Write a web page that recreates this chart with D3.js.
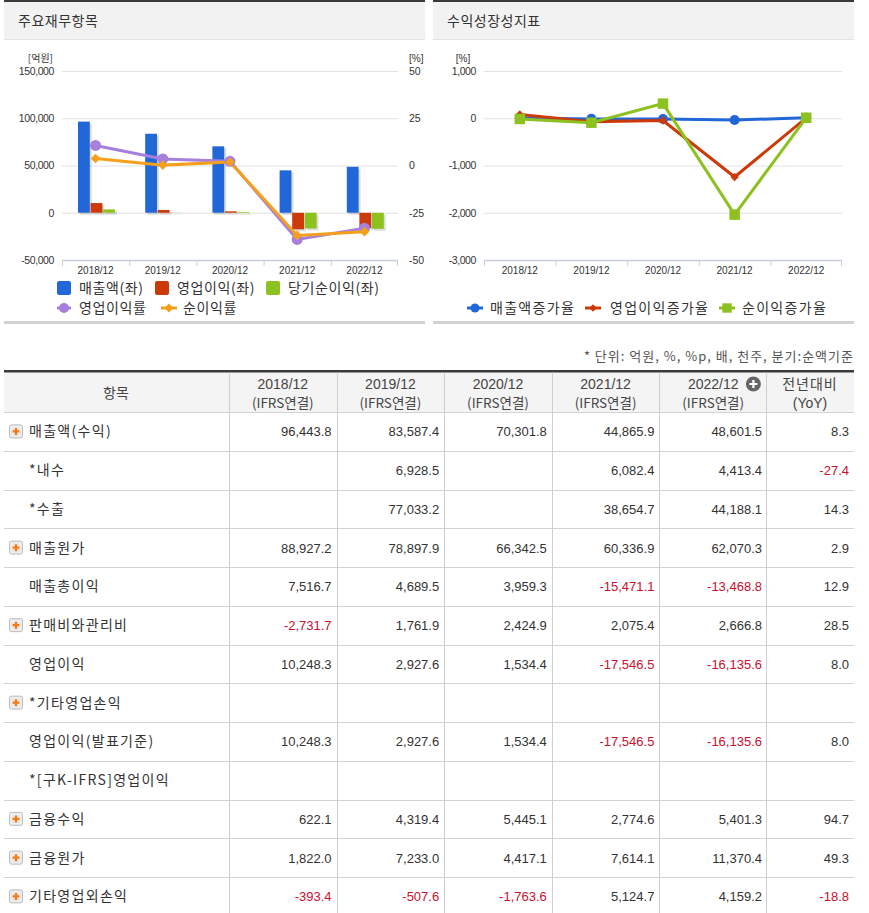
<!DOCTYPE html>
<html>
<head>
<meta charset="utf-8">
<script src="https://cdnjs.cloudflare.com/ajax/libs/d3/7.8.5/d3.min.js"></script>
<style>
  body { margin: 0; background: #fff; }
  svg { display: block; }
  .kr { font-family: "Noto Sans CJK KR", "Noto Sans", sans-serif; }
  .num { font-family: "Liberation Sans", Arial, sans-serif; }
</style>
</head>
<body>
<div id="page"></div>
<script>
// ---- data ----
const periods = ["2018/12", "2019/12", "2020/12", "2021/12", "2022/12"];

// left chart (억원 / %)
const sales = [96443.8, 83587.4, 70301.8, 44865.9, 48601.5];
const opIncome = [10248.3, 2927.6, 1534.4, -17546.5, -16135.6];
const netIncome = [3570, 210, 850, -16600, -17000];
const opMargin = [10.6, 3.5, 2.2, -39.1, -33.2];
const netMargin = [3.7, 0.2, 1.8, -37.0, -35.0];
const leftTicks = [-50000, 0, 50000, 100000, 150000];
const rightTicks = [-50, -25, 0, 25, 50];

// right chart (%)
const salesGrowth = [5, -13.3, -15.9, -36.2, 8.3];
const opGrowth = [80, -71.4, -47.6, -1243.5, 8.0];
const netGrowth = [-15, -94, 310, -2040, 10];
const growthTicks = [-3000, -2000, -1000, 0, 1000];

// table
const rowLabels = ["매출액(수익)", "*내수", "*수출", "매출원가", "매출총이익", "판매비와관리비", "영업이익",
  "*기타영업손익", "영업이익(발표기준)", "*[구K-IFRS]영업이익", "금융수익", "금융원가", "기타영업외손익"];
const rowExpand = [1, 0, 0, 1, 0, 1, 0, 1, 0, 0, 1, 1, 1];
const v2018 = [96443.8, null, null, 88927.2, 7516.7, -2731.7, 10248.3, null, 10248.3, null, 622.1, 1822.0, -393.4];
const v2019 = [83587.4, 6928.5, 77033.2, 78897.9, 4689.5, 1761.9, 2927.6, null, 2927.6, null, 4319.4, 7233.0, -507.6];
const v2020 = [70301.8, null, null, 66342.5, 3959.3, 2424.9, 1534.4, null, 1534.4, null, 5445.1, 4417.1, -1763.6];
const v2021 = [44865.9, 6082.4, 38654.7, 60336.9, -15471.1, 2075.4, -17546.5, null, -17546.5, null, 2774.6, 7614.1, 5124.7];
const v2022 = [48601.5, 4413.4, 44188.1, 62070.3, -13468.8, 2666.8, -16135.6, null, -16135.6, null, 5401.3, 11370.4, 4159.2];
const yoy = [8.3, -27.4, 14.3, 2.9, 12.9, 28.5, 8.0, null, 8.0, null, 94.7, 49.3, -18.8];

// hyphen minus instead of unicode minus
const loc = d3.formatLocale({decimal: ".", thousands: ",", grouping: [3], currency: ["", ""], minus: "-"});
const fmtInt = loc.format(",");
const fmt1 = loc.format(",.1f");

const W = 869, H = 913;
const svg = d3.select("#page").append("svg").attr("width", W).attr("height", H);

// ---- panels ----
function panel(x0, x1, title) {
  const g = svg.append("g");
  g.append("rect").attr("x", x0).attr("y", 0).attr("width", x1 - x0).attr("height", 2).attr("fill", "#3a3a3a");
  g.append("rect").attr("x", x0).attr("y", 2).attr("width", x1 - x0).attr("height", 37).attr("fill", "#f2f2f2");
  g.append("rect").attr("x", x0).attr("y", 39).attr("width", x1 - x0).attr("height", 1).attr("fill", "#e3e3e3");
  g.append("rect").attr("x", x0).attr("y", 321).attr("width", x1 - x0).attr("height", 3).attr("fill", "#d2d2d2");
  g.append("text").attr("class", "kr").attr("x", x0 + 14).attr("y", 26)
    .attr("font-size", 14).attr("letter-spacing", 0.5).attr("fill", "#333").text(title);
  return g;
}
panel(4, 425, "주요재무항목");
panel(433, 854, "수익성장성지표");

// ---- left chart ----
const xL = d3.scaleBand().domain(periods).range([62, 398]);
const yL = d3.scaleLinear().domain([-50000, 150000]).range([260, 71]);
const yR = d3.scaleLinear().domain([-50, 50]).range([260, 71]);
const barSeries = [
  {name: "매출액(좌)", values: sales, color: "#2267d8"},
  {name: "영업이익(좌)", values: opIncome, color: "#cc3a0a"},
  {name: "당기순이익(좌)", values: netIncome, color: "#8cc11f"}
];
const xInner = d3.scaleBand().domain(barSeries.map(d => d.name)).range([16, 53]).paddingInner(0.06);

const left = svg.append("g");
left.append("g").selectAll("line").data(leftTicks.slice(1)).join("line")
  .attr("x1", 62).attr("x2", 398).attr("y1", d => yL(d) + 0.5).attr("y2", d => yL(d) + 0.5)
  .attr("stroke", "#e2e2e2");

left.append("g").attr("transform", "translate(58,0)")
  .call(d3.axisLeft(yL).tickValues(leftTicks).tickFormat(fmtInt).tickSize(0).tickPadding(4))
  .call(g => g.select(".domain").remove())
  .selectAll("text").attr("class", "num").attr("font-size", 10.5).attr("fill", "#333").attr("letter-spacing", -0.4);

left.append("g").attr("transform", "translate(398,0)")
  .call(d3.axisRight(yR).tickValues(rightTicks).tickFormat(fmtInt).tickSize(0).tickPadding(11))
  .call(g => g.select(".domain").remove())
  .selectAll("text").attr("class", "num").attr("font-size", 10.5).attr("fill", "#333");

left.append("text").attr("class", "kr").attr("x", 53).attr("y", 62).attr("text-anchor", "end")
  .attr("font-size", 10).attr("fill", "#333").text("[억원]");
left.append("text").attr("class", "num").attr("x", 409).attr("y", 62)
  .attr("font-size", 10).attr("fill", "#333").text("[%]");

// bars
barSeries.forEach(s => {
  const g = left.append("g");
  g.selectAll("rect.sh").data(s.values).join("rect").attr("class", "sh")
    .attr("x", (d, i) => xL(periods[i]) + xInner(s.name) + 2)
    .attr("y", d => Math.min(yL(d), yL(0)) + 2)
    .attr("width", xInner.bandwidth())
    .attr("height", d => Math.abs(yL(d) - yL(0)))
    .attr("fill", "#000").attr("opacity", 0.13);
  g.selectAll("rect.bar").data(s.values).join("rect").attr("class", "bar")
    .attr("x", (d, i) => xL(periods[i]) + xInner(s.name))
    .attr("y", d => Math.min(yL(d), yL(0)))
    .attr("width", xInner.bandwidth())
    .attr("height", d => Math.abs(yL(d) - yL(0)))
    .attr("fill", s.color);
});

// x axis
left.append("line").attr("x1", 62).attr("x2", 398).attr("y1", 260.5).attr("y2", 260.5).attr("stroke", "#c9cfd8").attr("stroke-width", 1.5);
left.append("g").selectAll("line").data(periods.concat(["end"])).join("line")
  .attr("x1", (d, i) => i < periods.length ? xL(d) + 0.5 : 397.5)
  .attr("x2", (d, i) => i < periods.length ? xL(d) + 0.5 : 397.5)
  .attr("y1", 260).attr("y2", 266).attr("stroke", "#c9cfd8");
left.append("g").attr("transform", "translate(0,262)")
  .call(d3.axisBottom(xL).tickSize(0).tickPadding(5))
  .call(g => g.select(".domain").remove())
  .selectAll("text").attr("class", "num").attr("font-size", 10).attr("fill", "#333");

// margin lines
const lineL = vals => d3.line().x((d, i) => xL(periods[i]) + xL.bandwidth() / 2).y(d => yR(d))(vals);
left.append("path").attr("d", lineL(opMargin)).attr("fill", "none").attr("stroke", "#a77fdc").attr("stroke-width", 3);
left.append("path").attr("d", lineL(netMargin)).attr("fill", "none").attr("stroke", "#f5a01c").attr("stroke-width", 3);
left.append("g").selectAll("circle").data(opMargin).join("circle")
  .attr("cx", (d, i) => xL(periods[i]) + xL.bandwidth() / 2).attr("cy", d => yR(d))
  .attr("r", 5.5).attr("fill", "#a77fdc");
left.append("g").selectAll("path").data(netMargin).join("path")
  .attr("transform", (d, i) => `translate(${xL(periods[i]) + xL.bandwidth() / 2},${yR(d)})`)
  .attr("d", d3.symbol(d3.symbolDiamond2, 60)).attr("fill", "#f5a01c");

// left legend
const legL = left.append("g").attr("class", "kr").attr("font-size", 14).attr("letter-spacing", 0.6).attr("fill", "#333");
[[57, 288, 0], [155, 288, 1], [266, 288, 2]].forEach(([x, y, k]) => {
  legL.append("rect").attr("x", x).attr("y", y - 7).attr("width", 14).attr("height", 14).attr("rx", 2).attr("fill", barSeries[k].color);
  legL.append("text").attr("x", x + 22).attr("y", y + 5).text(barSeries[k].name);
});
legL.append("line").attr("x1", 57).attr("x2", 71).attr("y1", 308).attr("y2", 308).attr("stroke", "#a77fdc").attr("stroke-width", 3);
legL.append("circle").attr("cx", 64).attr("cy", 308).attr("r", 5).attr("fill", "#a77fdc");
legL.append("text").attr("x", 79).attr("y", 313).text("영업이익률");
legL.append("line").attr("x1", 161).attr("x2", 177).attr("y1", 308).attr("y2", 308).attr("stroke", "#f5a01c").attr("stroke-width", 3);
legL.append("path").attr("transform", "translate(169,308)").attr("d", d3.symbol(d3.symbolDiamond2, 50)).attr("fill", "#f5a01c");
legL.append("text").attr("x", 183).attr("y", 313).text("순이익률");

// ---- right chart ----
const xG = d3.scaleBand().domain(periods).range([484, 842]);
const yG = d3.scaleLinear().domain([-3000, 1000]).range([260, 71]);
const right = svg.append("g");
right.append("g").selectAll("line").data(growthTicks.slice(1)).join("line")
  .attr("x1", 484).attr("x2", 842).attr("y1", d => yG(d) + 0.5).attr("y2", d => yG(d) + 0.5)
  .attr("stroke", "#e2e2e2");
right.append("g").attr("transform", "translate(480,0)")
  .call(d3.axisLeft(yG).tickValues(growthTicks).tickFormat(fmtInt).tickSize(0).tickPadding(4))
  .call(g => g.select(".domain").remove())
  .selectAll("text").attr("class", "num").attr("font-size", 10.5).attr("fill", "#333").attr("letter-spacing", -0.4);
right.append("text").attr("class", "num").attr("x", 463).attr("y", 62).attr("text-anchor", "middle")
  .attr("font-size", 10).attr("fill", "#333").text("[%]");
right.append("line").attr("x1", 484).attr("x2", 842).attr("y1", 260.5).attr("y2", 260.5).attr("stroke", "#c9cfd8").attr("stroke-width", 1.5);
right.append("g").selectAll("line").data(periods.concat(["end"])).join("line")
  .attr("x1", (d, i) => i < periods.length ? xG(d) + 0.5 : 841.5)
  .attr("x2", (d, i) => i < periods.length ? xG(d) + 0.5 : 841.5)
  .attr("y1", 260).attr("y2", 266).attr("stroke", "#c9cfd8");
right.append("g").attr("transform", "translate(0,262)")
  .call(d3.axisBottom(xG).tickSize(0).tickPadding(5))
  .call(g => g.select(".domain").remove())
  .selectAll("text").attr("class", "num").attr("font-size", 10).attr("fill", "#333");

const growthSeries = [
  {name: "매출액증가율", values: salesGrowth, color: "#2267d8", sym: d3.symbolCircle, size: 80},
  {name: "영업이익증가율", values: opGrowth, color: "#cc3a0a", sym: d3.symbolDiamond2, size: 45},
  {name: "순이익증가율", values: netGrowth, color: "#8cc11f", sym: d3.symbolSquare, size: 110}
];
const lineG = vals => d3.line().x((d, i) => xG(periods[i]) + xG.bandwidth() / 2).y(d => yG(d))(vals);
growthSeries.forEach(s => {
  right.append("path").attr("d", lineG(s.values)).attr("fill", "none").attr("stroke", s.color).attr("stroke-width", 3);
  right.append("g").selectAll("path").data(s.values).join("path")
    .attr("transform", (d, i) => `translate(${xG(periods[i]) + xG.bandwidth() / 2},${yG(d)})`)
    .attr("d", d3.symbol(s.sym, s.size)).attr("fill", s.color);
});
const legR = right.append("g").attr("class", "kr").attr("font-size", 14).attr("letter-spacing", 1.3).attr("fill", "#333");
[[475, 490], [593, 610], [727, 742]].forEach(([cx, tx], k) => {
  const s = growthSeries[k];
  legR.append("line").attr("x1", cx - 8).attr("x2", cx + 8).attr("y1", 308).attr("y2", 308).attr("stroke", s.color).attr("stroke-width", 3);
  legR.append("path").attr("transform", `translate(${cx},308)`).attr("d", d3.symbol(s.sym, s.size * 0.8)).attr("fill", s.color);
  legR.append("text").attr("x", tx).attr("y", 313).text(s.name);
});

// ---- table ----
svg.append("text").attr("class", "kr").attr("x", 854).attr("y", 361).attr("text-anchor", "end")
  .attr("font-size", 13).attr("letter-spacing", 1).attr("fill", "#555").text("* 단위: 억원, %, %p, 배, 천주, 분기:순액기준");

const tableTop = 371, headBottom = 412, tableLeft = 4, tableRight = 854;
const colX = d3.scaleBand().domain(periods).range([229, 767]);
const rowY = d3.scaleBand().domain(rowLabels).range([headBottom, headBottom + rowLabels.length * 38.75]);
const cols = [v2018, v2019, v2020, v2021, v2022];

const tbl = svg.append("g");
tbl.append("rect").attr("x", tableLeft).attr("y", tableTop).attr("width", tableRight - tableLeft).attr("height", headBottom - tableTop).attr("fill", "#f4f4f4");
tbl.append("rect").attr("x", tableLeft).attr("y", tableTop - 1).attr("width", tableRight - tableLeft).attr("height", 2.5).attr("fill", "#3a3a3a");
// horizontal lines
tbl.append("g").selectAll("line").data(rowLabels).join("line")
  .attr("x1", tableLeft).attr("x2", tableRight)
  .attr("y1", d => Math.round(rowY(d)) + 0.5).attr("y2", d => Math.round(rowY(d)) + 0.5)
  .attr("stroke", "#d3d3d3");
// vertical lines
tbl.append("g").selectAll("line").data(periods.concat(["yoy"])).join("line")
  .attr("x1", (d, i) => i < periods.length ? Math.round(colX(d)) + 0.5 : 766.5)
  .attr("x2", (d, i) => i < periods.length ? Math.round(colX(d)) + 0.5 : 766.5)
  .attr("y1", tableTop + 1.5).attr("y2", H)
  .attr("stroke", "#cfcfcf");

// header
const head = tbl.append("g").attr("fill", "#444").attr("text-anchor", "middle");
head.append("text").attr("class", "kr").attr("font-size", 14).attr("x", 116).attr("y", 398).text("항목");
periods.forEach(p => {
  const cx = colX(p) + colX.bandwidth() / 2;
  head.append("text").attr("class", "num").attr("font-size", 14).attr("x", cx).attr("y", 388.5).text(p);
  head.append("text").attr("class", "kr").attr("font-size", 13.5).attr("x", cx).attr("y", 407.5).text("(IFRS연결)");
});
head.append("text").attr("class", "kr").attr("font-size", 14).attr("letter-spacing", 1).attr("x", 810).attr("y", 388.5).text("전년대비");
head.append("text").attr("class", "num").attr("font-size", 14).attr("x", 810).attr("y", 407.5).text("(YoY)");
const plus = tbl.append("g").attr("transform", `translate(${colX("2022/12") + 94},384)`);
plus.append("circle").attr("r", 7.5).attr("fill", "#666");
plus.append("path").attr("d", "M-4,0H4M0,-4V4").attr("stroke", "#fff").attr("stroke-width", 2.2);

// body
const rows = tbl.append("g").selectAll("g").data(rowLabels).join("g")
  .attr("transform", d => `translate(0,${rowY(d) + rowY.bandwidth() / 2})`);
rows.append("text").attr("class", "kr").attr("x", 29).attr("y", 5).attr("font-size", 14)
  .attr("letter-spacing", 1.3).attr("fill", "#333").text(d => d);
const icon = rows.filter((d, i) => rowExpand[i]).append("g").attr("transform", "translate(9,-7)");
icon.append("rect").attr("x", 0.5).attr("y", 0.5).attr("width", 13).attr("height", 13).attr("rx", 2)
  .attr("fill", "#ececec").attr("stroke", "#bdbdbd");
icon.append("path").attr("d", "M3.5,7H10.5M7,3.5V10.5").attr("stroke", "#f07d1a").attr("stroke-width", 2.4);

cols.forEach((vals, ci) => {
  const xr = colX(periods[ci]) + colX.bandwidth() - 5;
  rows.append("text").attr("class", "num").attr("x", xr).attr("y", 5).attr("text-anchor", "end")
    .attr("font-size", 13)
    .attr("fill", (d, i) => vals[i] < 0 ? "#c8102e" : "#333")
    .text((d, i) => vals[i] == null ? "" : fmt1(vals[i]));
});
rows.append("text").attr("class", "num").attr("x", 849).attr("y", 5).attr("text-anchor", "end")
  .attr("font-size", 13)
  .attr("fill", (d, i) => yoy[i] < 0 ? "#c8102e" : "#333")
  .text((d, i) => yoy[i] == null ? "" : fmt1(yoy[i]));
</script>
</body>
</html>
